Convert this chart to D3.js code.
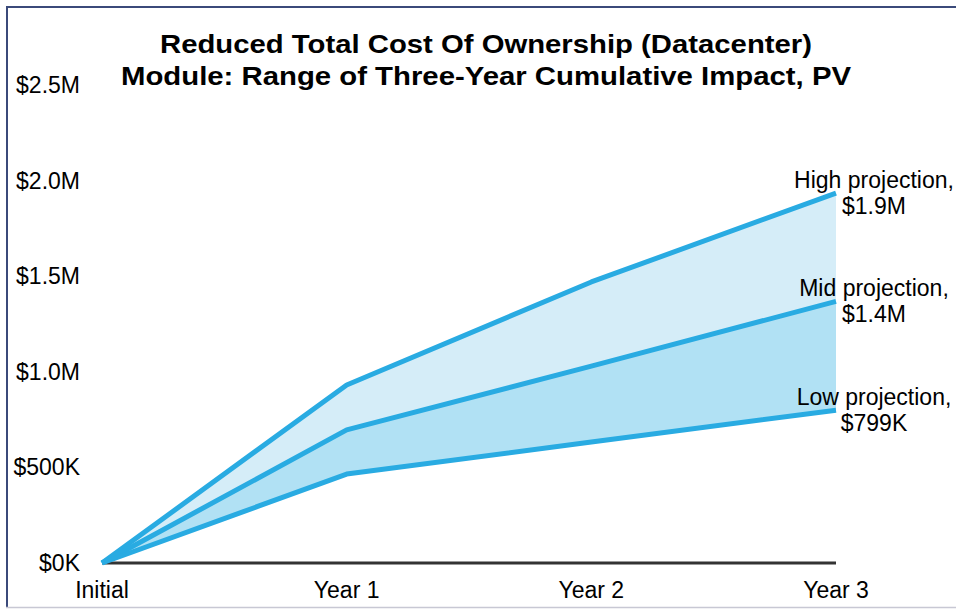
<!DOCTYPE html>
<html>
<head>
<meta charset="utf-8">
<script src="https://cdn.jsdelivr.net/npm/d3@7"></script>
<style>
  body { margin: 0; background: #fff; }
  text { font-family: "Liberation Sans", Arial, sans-serif; }
</style>
</head>
<body>
<div id="chart"></div>
<script>
(function () {

  // data (values in $M)
  const periods = ['Initial', 'Year 1', 'Year 2', 'Year 3']
  const high = [0, 0.931, 1.470, 1.935]
  const mid = [0, 0.696, 1.030, 1.368]
  const low = [0, 0.465, 0.633, 0.799]
  const yTicks = [0, 0.5, 1.0, 1.5, 2.0, 2.5]
  const yTickLabels = ['$0K', '$500K', '$1.0M', '$1.5M', '$2.0M', '$2.5M']
  const endLabels = [
    ['High projection,', '$1.9M'],
    ['Mid projection,', '$1.4M'],
    ['Low projection,', '$799K']
  ]
  const titleLines = [
    'Reduced Total Cost Of Ownership (Datacenter)',
    'Module: Range of Three-Year Cumulative Impact, PV'
  ]

  const W = 956
  const H = 610

  const svg = d3.select('#chart').append('svg')
    .attr('width', W)
    .attr('height', H)

  // frame
  svg.append('line')
    .attr('x1', 7).attr('x2', 7).attr('y1', 6).attr('y2', 608)
    .attr('stroke', '#3b4a7a').attr('stroke-width', 2)
  svg.append('line')
    .attr('x1', 6).attr('x2', W).attr('y1', 7).attr('y2', 7)
    .attr('stroke', '#3b4a7a').attr('stroke-width', 2)
  svg.append('line')
    .attr('x1', 6).attr('x2', W).attr('y1', 607.5).attr('y2', 607.5)
    .attr('stroke', '#c8c8d4').attr('stroke-width', 1.5)

  const xPositionScale = d3.scalePoint()
    .domain(periods)
    .range([102, 836])

  const yPositionScale = d3.scaleLinear()
    .domain([0, 2.5])
    .range([563, 85])

  const rows = periods.map((p, i) => ({ p, high: high[i], mid: mid[i], low: low[i] }))

  // bands
  const band = (top, bottom) => d3.area()
    .x(d => xPositionScale(d.p))
    .y0(d => yPositionScale(d[bottom]))
    .y1(d => yPositionScale(d[top]))

  svg.append('path')
    .datum(rows)
    .attr('d', band('high', 'mid'))
    .attr('fill', '#d5edf8')

  svg.append('path')
    .datum(rows)
    .attr('d', band('mid', 'low'))
    .attr('fill', '#b1e1f4')

  // x axis line
  svg.append('line')
    .attr('x1', xPositionScale('Initial'))
    .attr('x2', xPositionScale('Year 3'))
    .attr('y1', yPositionScale(0))
    .attr('y2', yPositionScale(0))
    .attr('stroke', '#333')
    .attr('stroke-width', 3)

  // lines
  const line = key => d3.line()
    .x(d => xPositionScale(d.p))
    .y(d => yPositionScale(d[key]))

  ;['high', 'mid', 'low'].forEach(key => {
    svg.append('path')
      .datum(rows)
      .attr('d', line(key))
      .attr('fill', 'none')
      .attr('stroke', '#29abe2')
      .attr('stroke-width', 5)
      .attr('stroke-linejoin', 'round')
  })

  // y tick labels
  svg.selectAll('.y-label')
    .data(yTicks)
    .join('text')
    .attr('class', 'y-label')
    .attr('x', 80)
    .attr('y', d => yPositionScale(d) + 8)
    .attr('text-anchor', 'end')
    .attr('font-size', 23)
    .attr('fill', '#000')
    .text((d, i) => yTickLabels[i])

  // x tick labels
  svg.selectAll('.x-label')
    .data(periods)
    .join('text')
    .attr('class', 'x-label')
    .attr('x', d => xPositionScale(d))
    .attr('y', 598)
    .attr('text-anchor', 'middle')
    .attr('font-size', 23)
    .attr('fill', '#000')
    .text(d => d)

  // end labels
  const lastVals = [high[3], mid[3], low[3]]
  endLabels.forEach((lines, i) => {
    const t = svg.append('text')
      .attr('x', 874)
      .attr('y', yPositionScale(lastVals[i]) - 5)
      .attr('text-anchor', 'middle')
      .attr('font-size', 23)
      .attr('fill', '#000')
    lines.forEach((s, j) => {
      t.append('tspan')
        .attr('x', 874)
        .attr('dy', j === 0 ? 0 : 26)
        .text(s)
    })
  })

  // title (condensed bold look)
  const titleWidths = [652, 730]
  svg.selectAll('.title')
    .data(titleLines)
    .join('text')
    .attr('class', 'title')
    .attr('x', 486)
    .attr('y', (d, i) => 53 + i * 32)
    .attr('text-anchor', 'middle')
    .attr('font-size', 26)
    .attr('font-weight', 'bold')
    .attr('fill', '#000')
    .attr('textLength', (d, i) => titleWidths[i])
    .attr('lengthAdjust', 'spacingAndGlyphs')
    .text(d => d)

})();
</script>
</body>
</html>
